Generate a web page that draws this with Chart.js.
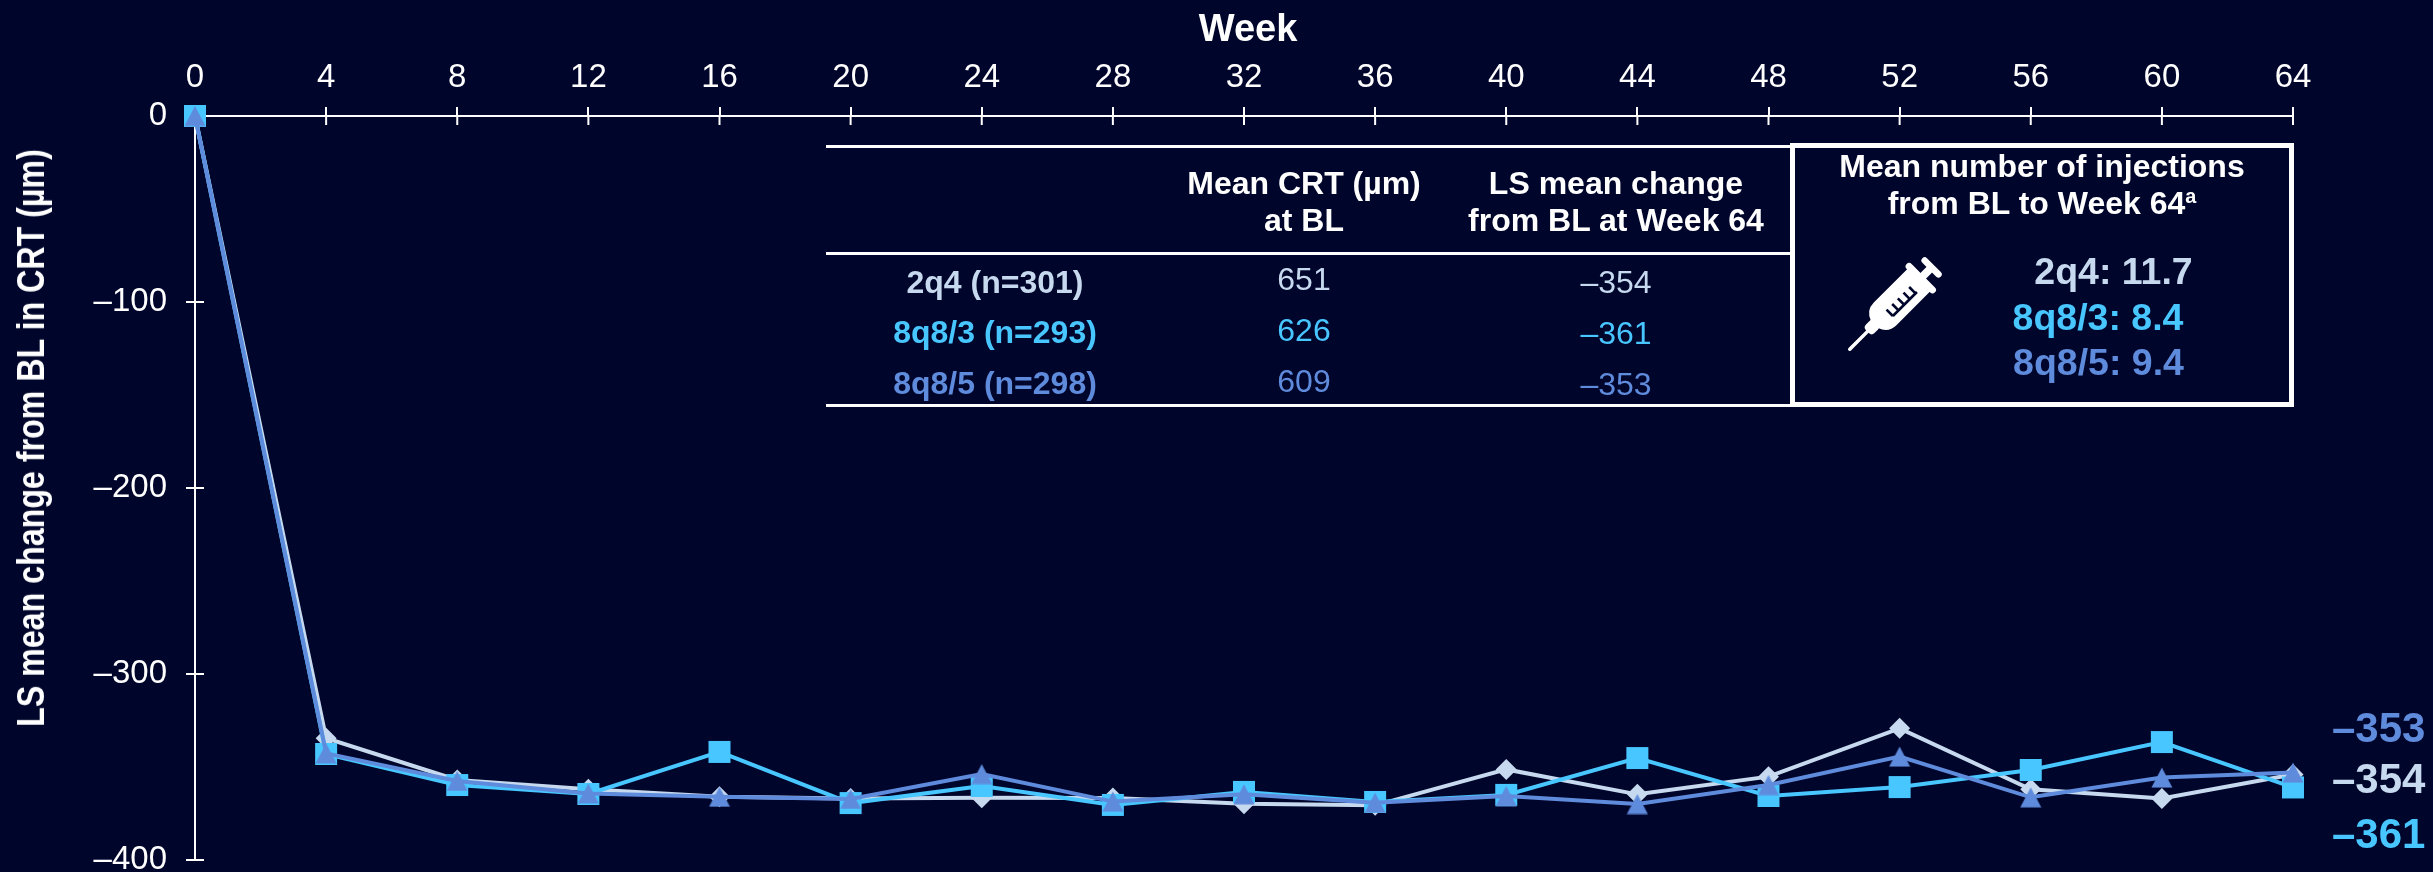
<!DOCTYPE html>
<html><head><meta charset="utf-8">
<script src="https://cdn.jsdelivr.net/npm/chart.js@4"></script>
<style>
html,body{margin:0;padding:0;background:#00052B;overflow:hidden;width:2433px;height:872px}
#wrap{position:relative;width:2433px;height:872px;font-family:"Liberation Sans",Arial,sans-serif}
canvas{position:absolute;left:0;top:0}
.t{position:absolute;transform:translate(-50%,-50%);white-space:nowrap;line-height:1;color:#fff;font-size:32px}
.b{font-weight:bold}
.l{position:absolute;transform:translateY(-50%);white-space:nowrap;line-height:1;font-weight:bold;font-size:42px}
.r{position:absolute;background:#fff}
sup{font-size:62%;vertical-align:baseline;position:relative;top:-.55em;line-height:0}
#box{position:absolute;left:1790px;top:143px;width:504px;height:264px;box-sizing:border-box;border:5px solid #fff}
svg{position:absolute}
</style></head><body>
<div id="wrap"><canvas id="c" width="2433" height="872"></canvas></div>
<script>
const weeks = [0,4,8,12,16,20,24,28,32,36,40,44,48,52,56,60,64];
const values2q4  = [0,-334.5,-357,-362,-366,-367,-366.5,-366.7,-369.7,-370.6,-351.3,-364.7,-355.2,-329.2,-362,-366.9,-354];
const values8q83 = [0,-343,-359.7,-364.5,-341.9,-369.4,-360.2,-370.4,-363.4,-368.8,-365,-345.2,-365.6,-360.8,-351.6,-336.6,-361];
const values8q85 = [0,-342.7,-357.5,-364.2,-366,-367.2,-353.8,-368.6,-364.7,-369.2,-365.6,-369.9,-359.7,-344.4,-366.3,-355.7,-353];
const colors = {a:'#C6D9EE', b:'#48C6FF', c:'#5F8BDC'};
const rowNames = ['2q4 (n=301)','8q8/3 (n=293)','8q8/5 (n=298)'];
const baseline = ['651','626','609'];
const changes = ['–354','–361','–353'];
const injections = ['2q4: 11.7','8q8/3: 8.4','8q8/5: 9.4'];
const endLabels = [['–353','c',728],['–354','a',779],['–361','b',834]];
const yTitle = 'LS mean change from BL in CRT (µm)';
const xTitle = 'Week';

const wrap = document.getElementById('wrap');
function T(txt,x,y,cls,col){const d=document.createElement('div');d.className=cls;d.innerHTML=txt;d.style.left=x+'px';d.style.top=y+'px';if(col)d.style.color=col;wrap.appendChild(d);}
function R(x,y,w,h){const d=document.createElement('div');d.className='r';d.style.cssText=`left:${x}px;top:${y}px;width:${w}px;height:${h}px`;wrap.appendChild(d);}
R(826,145,966,3);R(826,252,966,3);R(826,404,966,3);
const bx=document.createElement('div');bx.id='box';wrap.appendChild(bx);
T('Mean CRT (µm)',1304,183,'t b');T('at BL',1304,220,'t b');
T('LS mean change',1616,183,'t b');T('from BL at Week 64',1616,220,'t b');
const cols=[colors.a,colors.b,colors.c];
[282,332,383].forEach((y,i)=>T(rowNames[i],995,y,'t b',cols[i]));
[279,330,381].forEach((y,i)=>T(baseline[i],1304,y,'t',cols[i]));
[282,333,384].forEach((y,i)=>T(changes[i],1616,y,'t',cols[i]));
T('Mean number of injections',2042,166,'t b');
T('from BL to Week 64<sup>a</sup>',2042,203,'t b');
const injX=[2113.5,2098,2098.5];
[272,318,363].forEach((y,i)=>{T(injections[i],injX[i],y,'t b',cols[i]);wrap.lastChild.style.fontSize='37.5px';});
endLabels.forEach(e=>{const d=document.createElement('div');d.className='l';d.textContent=e[0];d.style.left='2332px';d.style.top=e[2]+'px';d.style.color=colors[e[1]];wrap.appendChild(d);});
T(yTitle,31,438,'t b');
wrap.lastChild.style.cssText+=';transform:translate(-50%,-50%) rotate(-90deg) scaleX(.847);font-size:38px';
T(xTitle,1248,28,'t b');
wrap.lastChild.style.fontSize='38px';
wrap.insertAdjacentHTML('beforeend',`<svg style="left:1845px;top:254px" width="100" height="100" viewBox="-50 -50 100 100">
<g transform="rotate(45)" fill="#fff">
<path d="M0 26V64" stroke="#fff" stroke-width="3.5" stroke-linecap="round"/>
<rect x="-6" y="26" width="12" height="13" rx="4"/>
<path d="M-16 -36H16V14Q16 25 5 29H-5Q-16 25 -16 14Z"/>
<rect x="-4" y="-52" width="8" height="18"/>
<rect x="-20" y="-40" width="40" height="7" rx="3.5"/>
<rect x="-13" y="-55" width="26" height="6.5" rx="3.2"/>
<path d="M7 -24V10M7 -22H-2M7 -14H-2M7 -6H-2M7 2H-2M7 10H-2" fill="none" stroke="#00052B" stroke-width="2.6"/>
</g></svg>`);

// triangle marker, centred vertically on its data point
const tri=document.createElement('canvas');tri.width=22;tri.height=21;
const tc=tri.getContext('2d');tc.fillStyle=colors.c;tc.beginPath();tc.moveTo(11,0.5);tc.lineTo(21.5,20.5);tc.lineTo(0.5,20.5);tc.closePath();tc.fill();

const innerTicks={id:'innerTicks',
 afterLayout(ch){
  const y=ch.scales.y,B=860;
  y.bottom=B;y.height=B-y.top;y.configure();
  ch.chartArea.bottom=B;ch.chartArea.height=B-ch.chartArea.top;},
 beforeDatasetsDraw(ch){
  const g=ch.ctx,x=ch.scales.x,y=ch.scales.y;g.save();g.strokeStyle='#fff';g.lineWidth=2;g.beginPath();
  x.ticks.forEach((t,i)=>{const p=x.getPixelForTick(i);g.moveTo(p,x.bottom);g.lineTo(p,x.bottom+9);});
  y.ticks.forEach((t,i)=>{const p=y.getPixelForTick(i);g.moveTo(y.right,p);g.lineTo(y.right+9,p);});
  g.stroke();g.restore();}};

const font=(s,w)=>({family:'"Liberation Sans",Arial,sans-serif',size:s,weight:w||'normal'});
const ds=(label,data,col,style,r,order)=>({label,data,borderColor:col,backgroundColor:col,borderWidth:4,tension:0,pointStyle:style,pointRadius:r,pointHoverRadius:r,pointBorderWidth:0,pointBackgroundColor:col,clip:false,order});
new Chart(document.getElementById('c'),{type:'line',plugins:[innerTicks],
 data:{labels:weeks,datasets:[
  ds('2q4',values2q4,colors.a,'rectRot',10.5,3),
  ds('8q8/3',values8q83,colors.b,'rect',15.56,2),
  ds('8q8/5',values8q85,colors.c,tri,11,1)]},
 options:{responsive:false,animation:false,devicePixelRatio:1,
  layout:{padding:{left:0,top:0,right:140,bottom:12}},
  plugins:{legend:{display:false},tooltip:{enabled:false}},
  scales:{
   x:{type:'category',position:'top',offset:false,
    afterFit(s){s.height=116;s.paddingLeft=0;s.paddingRight=0;},
    ticks:{color:'#fff',font:font(33),padding:9,autoSkip:false,maxRotation:0,minRotation:0},
    grid:{drawOnChartArea:false,drawTicks:true,tickLength:9,color:'#fff',lineWidth:2},
    border:{color:'#fff',width:2}},
   y:{min:-400,max:0,
    afterFit(s){s.width=195;s.paddingTop=0;s.paddingBottom=0;},
    ticks:{stepSize:100,color:'#fff',font:font(33),padding:19,callback:v=>String(v).replace('-','–')},
    grid:{drawOnChartArea:false,drawTicks:true,tickLength:9,color:'#fff',lineWidth:2},
    border:{color:'#fff',width:2}}
  }}});
</script></body></html>
